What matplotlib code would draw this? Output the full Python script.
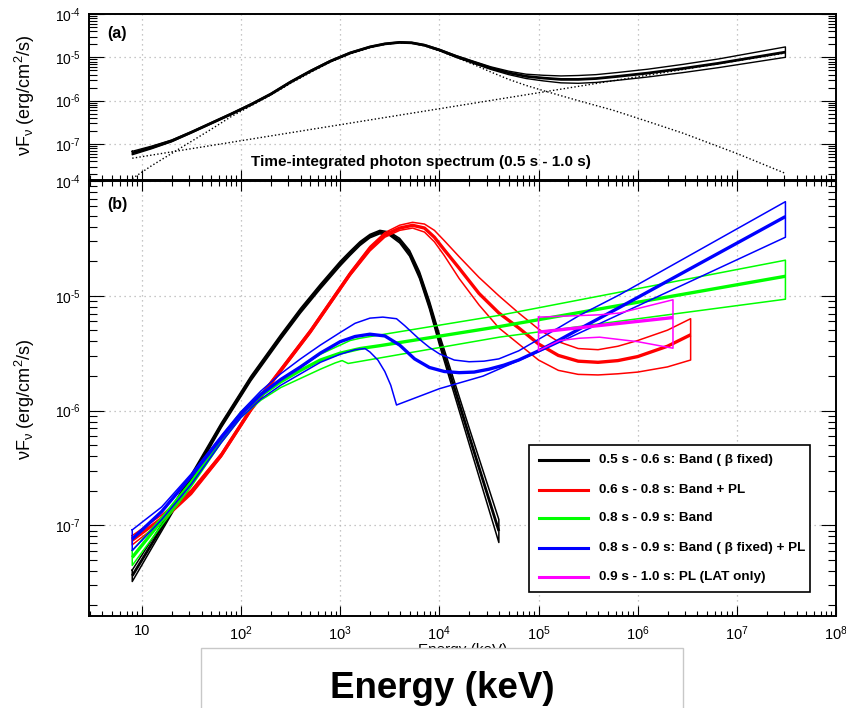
import numpy as np
import matplotlib
matplotlib.use('Agg')
import matplotlib.pyplot as plt
from matplotlib.ticker import LogLocator, FuncFormatter, NullFormatter
from matplotlib.patches import Rectangle

plt.rcParams['font.family'] = ['Liberation Sans', 'DejaVu Sans']
plt.rcParams['mathtext.fontset'] = 'custom'
plt.rcParams['mathtext.rm'] = 'Liberation Sans'
plt.rcParams['mathtext.it'] = 'Liberation Sans:italic'
plt.rcParams['mathtext.bf'] = 'Liberation Sans:bold'

# ---- data (log10 E [keV], log10 nuFnu [erg/cm2/s]) ----
# panel (a): time-integrated spectrum, total model
a_logE = [0.903, 1.1, 1.3, 1.5, 1.7, 1.9, 2.1, 2.3, 2.5, 2.7, 2.9, 3.1, 3.3, 3.45,
          3.6, 3.72, 3.85, 4.0, 4.17, 4.35, 4.52, 4.7, 4.876, 5.05, 5.227, 5.4,
          5.58, 5.8, 6.1, 6.45, 6.81, 7.15, 7.49]
a_mid = [-7.21, -7.08, -6.93, -6.73, -6.52, -6.31, -6.09, -5.85, -5.57, -5.32,
         -5.09, -4.90, -4.76, -4.69, -4.655, -4.665, -4.72, -4.83, -4.98, -5.12,
         -5.25, -5.36, -5.44, -5.48, -5.51, -5.51, -5.49, -5.44, -5.365, -5.26,
         -5.14, -5.01, -4.88]
a_hi = [-7.17, -7.05, -6.91, -6.715, -6.505, -6.295, -6.075, -5.835, -5.555, -5.305,
        -5.075, -4.887, -4.75, -4.68, -4.645, -4.655, -4.708, -4.815, -4.96, -5.095,
        -5.22, -5.32, -5.39, -5.415, -5.43, -5.42, -5.40, -5.35, -5.275, -5.165,
        -5.04, -4.90, -4.76]
a_lo = [-7.25, -7.11, -6.95, -6.745, -6.535, -6.325, -6.105, -5.865, -5.585, -5.335,
        -5.105, -4.913, -4.77, -4.70, -4.665, -4.675, -4.732, -4.845, -5.00, -5.145,
        -5.28, -5.40, -5.49, -5.545, -5.59, -5.60, -5.58, -5.53, -5.455, -5.355,
        -5.24, -5.12, -5.00]
a_band_logE = [0.903, 1.1, 1.3, 1.5, 1.7, 1.9, 2.1, 2.3, 2.5, 2.7, 2.9, 3.1, 3.3,
               3.45, 3.6, 3.72, 3.85, 4.0, 4.17, 4.35, 4.52, 4.7, 4.876, 5.05, 5.4,
               5.75, 6.1, 6.455, 7.0, 7.49]
a_band = [-7.80, -7.50, -7.22, -6.94, -6.66, -6.37, -6.12, -5.87, -5.60, -5.35,
          -5.11, -4.92, -4.775, -4.70, -4.665, -4.675, -4.735, -4.85, -5.00, -5.17,
          -5.34, -5.51, -5.65, -5.77, -6.00, -6.22, -6.48, -6.75, -7.22, -7.68]
a_pl_logE = [0.903, 7.49]
a_pl = [-7.33, -4.90]

# panel (b): black 0.5-0.6 s, Band (beta fixed)
bk_logE = [0.903, 1.2, 1.5, 1.8, 2.1, 2.4, 2.6, 2.8, 3.0, 3.1, 3.2, 3.3, 3.4, 3.5,
           3.6, 3.7, 3.8, 3.9, 4.0, 4.3, 4.6]
bk_mid = [-7.44, -7.02, -6.58, -6.13, -5.72, -5.36, -5.13, -4.92, -4.72, -4.63,
          -4.545, -4.48, -4.445, -4.46, -4.52, -4.63, -4.82, -5.08, -5.38, -6.22,
          -7.05]
bk_hi = [-7.39, -6.99, -6.555, -6.11, -5.70, -5.34, -5.11, -4.90, -4.70, -4.612,
         -4.528, -4.465, -4.43, -4.445, -4.50, -4.605, -4.79, -5.045, -5.335, -6.15,
         -6.95]
bk_lo = [-7.49, -7.05, -6.605, -6.15, -5.74, -5.38, -5.15, -4.94, -4.74, -4.648,
         -4.562, -4.495, -4.46, -4.475, -4.54, -4.655, -4.85, -5.115, -5.425, -6.29,
         -7.15]

# red 0.6-0.8 s, Band + PL
rd_logE = [0.903, 1.2, 1.5, 1.8, 2.1, 2.4, 2.7, 2.9, 3.1, 3.3, 3.45, 3.6, 3.73,
           3.85, 3.95, 4.05, 4.2, 4.4, 4.6, 4.8, 5.0, 5.2, 5.4, 5.6, 5.8, 6.0, 6.3,
           6.534]
rd_mid = [-7.13, -6.94, -6.71, -6.39, -5.99, -5.65, -5.31, -5.06, -4.81, -4.59,
          -4.47, -4.41, -4.386, -4.41, -4.49, -4.60, -4.76, -4.98, -5.15, -5.28,
          -5.42, -5.52, -5.57, -5.58, -5.565, -5.53, -5.44, -5.34]
rd_hi = [-7.09, -6.91, -6.69, -6.375, -5.975, -5.635, -5.295, -5.045, -4.795, -4.57,
         -4.45, -4.385, -4.36, -4.375, -4.43, -4.52, -4.66, -4.84, -5.00, -5.15,
         -5.29, -5.40, -5.46, -5.47, -5.44, -5.39, -5.30, -5.20]
rd_lo = [-7.17, -6.97, -6.73, -6.405, -6.005, -5.665, -5.325, -5.075, -4.825, -4.61,
         -4.49, -4.43, -4.41, -4.445, -4.53, -4.65, -4.85, -5.08, -5.28, -5.42,
         -5.56, -5.65, -5.685, -5.69, -5.68, -5.665, -5.62, -5.56]

# green 0.8-0.9 s, Band
gr_logE = [0.903, 1.2, 1.5, 1.8, 2.0, 2.2, 2.4, 2.6, 2.8, 3.0, 3.2, 3.4, 4.609, 7.49]
gr_mid = [-7.28, -6.96, -6.63, -6.25, -6.03, -5.87, -5.75, -5.65, -5.56, -5.50,
          -5.46, -5.435, -5.268, -4.83]
gr_hi_logE = [0.903, 1.2, 1.5, 1.8, 2.0, 2.2, 2.4, 2.6, 2.8, 3.0, 3.1, 3.2, 4.609, 7.49]
gr_hi = [-7.22, -6.93, -6.61, -6.23, -6.01, -5.85, -5.73, -5.62, -5.51, -5.43,
         -5.39, -5.37, -5.17, -4.69]
gr_lo_logE = [0.903, 1.2, 1.5, 1.8, 2.0, 2.2, 2.4, 2.6, 2.8, 2.95, 3.02, 3.08, 4.609, 7.49]
gr_lo = [-7.35, -7.00, -6.66, -6.28, -6.06, -5.91, -5.80, -5.72, -5.64, -5.585,
         -5.565, -5.59, -5.36, -5.03]

# blue 0.8-0.9 s, Band (beta fixed) + PL
bl_logE = [0.903, 1.2, 1.5, 1.8, 2.0, 2.2, 2.4, 2.6, 2.8, 3.0, 3.15, 3.3, 3.45, 3.6,
           3.75, 3.9, 4.05, 4.2, 4.35, 4.5, 4.65, 4.8, 5.0, 5.2, 5.415, 5.82, 7.49]
bl_mid = [-7.12, -6.88, -6.57, -6.24, -6.03, -5.86, -5.73, -5.62, -5.50, -5.40,
          -5.355, -5.335, -5.35, -5.43, -5.55, -5.625, -5.66, -5.67, -5.665, -5.64,
          -5.605, -5.56, -5.48, -5.39, -5.288, -5.10, -4.31]
bl_hi_logE = [0.903, 1.2, 1.5, 1.8, 2.0, 2.2, 2.4, 2.6, 2.8, 3.0, 3.15, 3.3, 3.43,
              3.568, 3.65, 3.8, 3.9, 4.0, 4.15, 4.3, 4.45, 4.6, 4.8, 5.0, 5.2, 5.415,
              5.82, 7.49]
bl_hi = [-7.04, -6.84, -6.55, -6.22, -6.01, -5.83, -5.68, -5.55, -5.43, -5.32,
         -5.24, -5.195, -5.186, -5.20, -5.26, -5.38, -5.45, -5.506, -5.56, -5.575,
         -5.57, -5.55, -5.48, -5.38, -5.28, -5.17, -4.99, -4.18]
bl_lo_logE = [0.903, 1.2, 1.5, 1.8, 2.0, 2.2, 2.4, 2.6, 2.8, 3.0, 3.15, 3.25, 3.3,
              3.38, 3.45, 3.51, 3.568, 4.0, 4.44, 5.05, 7.49]
bl_lo = [-7.22, -6.95, -6.64, -6.28, -6.06, -5.90, -5.78, -5.68, -5.58, -5.51,
         -5.47, -5.46, -5.49, -5.56, -5.66, -5.78, -5.952, -5.81, -5.70, -5.47,
         -4.49]

# magenta 0.9-1.0 s, PL (LAT only)
mg_logE = [5.0, 6.356]
mg_mid = [-5.317, -5.19]
mg_hi_logE = [5.0, 5.617, 5.82, 6.356]
mg_hi = [-5.186, -5.166, -5.15, -5.035]
mg_lo_logE = [5.0, 5.214, 5.415, 5.617, 6.0, 6.356]
mg_lo = [-5.478, -5.39, -5.37, -5.361, -5.40, -5.457]

labels = ['0.5 s - 0.6 s: Band ( β fixed)',
          '0.6 s - 0.8 s: Band + PL',
          '0.8 s - 0.9 s: Band',
          '0.8 s - 0.9 s: Band ( β fixed) + PL',
          '0.9 s - 1.0 s: PL (LAT only)']
colors = ['#000000', '#ff0000', '#00ff00', '#0000ff', '#ff00ff']


def P(a):
    return 10 ** np.asarray(a, dtype=float)


def butterfly(ax, e, mid, eh, hi, el, lo, color, lw_mid=2.4, lw_env=1.1):
    eh, hi, el, lo = map(np.asarray, (eh, hi, el, lo))
    xs = np.concatenate([eh, el[::-1], eh[:1]])
    ys = np.concatenate([hi, lo[::-1], hi[:1]])
    ax.plot(P(xs), P(ys), color=color, lw=lw_env, solid_joinstyle='round')
    ax.plot(P(e), P(mid), color=color, lw=lw_mid, solid_capstyle='butt',
            solid_joinstyle='round')


def fmt(v, pos):
    e = int(round(np.log10(v)))
    if e == 1:
        return '10'
    if e < 0:
        return r'$\mathregular{10^{\text{-}%d}}$' % (-e)
    return r'$\mathregular{10^{%d}}$' % e


W, H = 846, 708
fig = plt.figure(figsize=(W / 100, H / 100), dpi=100)
x0, x1 = 89, 836
ax_a = fig.add_axes([x0 / W, 1 - 180 / H, (x1 - x0) / W, (180 - 14) / H])
ax_b = fig.add_axes([x0 / W, 1 - 616 / H, (x1 - x0) / W, (616 - 181) / H])

for ax in (ax_a, ax_b):
    ax.set_xscale('log')
    ax.set_yscale('log')
    ax.set_xlim(2.93, 1e8)
    ax.xaxis.set_major_locator(LogLocator(base=10, numticks=20))
    ax.xaxis.set_minor_locator(LogLocator(base=10, subs=np.arange(2, 10), numticks=200))
    ax.yaxis.set_major_locator(LogLocator(base=10, numticks=20))
    ax.yaxis.set_minor_locator(LogLocator(base=10, subs=np.arange(2, 10), numticks=200))
    ax.xaxis.set_minor_formatter(NullFormatter())
    ax.yaxis.set_minor_formatter(NullFormatter())
    ax.yaxis.set_major_formatter(FuncFormatter(fmt))
    ax.xaxis.set_major_formatter(FuncFormatter(fmt))
    ax.grid(True, which='major', color='#b4b4b4', linestyle=(0, (1, 3)), lw=0.9)
    ax.tick_params(axis='y', which='major', direction='in', length=11, width=0.8,
                   left=True, right=True, labelsize=10, pad=6)
    ax.tick_params(axis='y', which='minor', direction='in', length=6, width=0.8,
                   left=True, right=True)
    ax.tick_params(axis='x', which='major', direction='in', length=7, width=0.8,
                   top=False, bottom=True, labelsize=10.5, pad=6)
    ax.tick_params(axis='x', which='minor', direction='in', length=3.5, width=0.8,
                   top=False, bottom=True)
    for s in ax.spines.values():
        s.set_linewidth(1.4)

ax_a.set_ylim(1.47e-8, 1e-4)
ax_b.set_ylim(1.62e-8, 1e-4)
ax_a.tick_params(axis='x', labelbottom=False)
ax_b.tick_params(axis='x', which='both', top=True)

# panel (a)
dot = (0, (1, 1.6))
ax_a.plot(P(a_band_logE), P(a_band), color='k', lw=1.0, ls=dot)
ax_a.plot(P(a_pl_logE), P(a_pl), color='k', lw=1.0, ls=dot)
butterfly(ax_a, a_logE, a_mid, a_logE, a_hi, a_logE, a_lo, 'k', lw_mid=2.0, lw_env=1.0)
ax_a.text(0.024, 0.88, '(a)', transform=ax_a.transAxes, fontsize=11.5,
          fontweight='bold', va='center')
ax_a.text(0.445, 0.11, 'Time-integrated photon spectrum (0.5 s - 1.0 s)',
          transform=ax_a.transAxes, fontsize=11, fontweight='bold',
          ha='center', va='center')

# panel (b)
butterfly(ax_b, bk_logE, bk_mid, bk_logE, bk_hi, bk_logE, bk_lo, colors[0], lw_mid=2.0)
butterfly(ax_b, rd_logE, rd_mid, rd_logE, rd_hi, rd_logE, rd_lo, colors[1])
butterfly(ax_b, gr_logE, gr_mid, gr_hi_logE, gr_hi, gr_lo_logE, gr_lo, colors[2])
butterfly(ax_b, bl_logE, bl_mid, bl_hi_logE, bl_hi, bl_lo_logE, bl_lo, colors[3])
butterfly(ax_b, mg_logE, mg_mid, mg_hi_logE, mg_hi, mg_lo_logE, mg_lo, colors[4])
ax_b.text(0.024, 0.945, '(b)', transform=ax_b.transAxes, fontsize=11.5,
          fontweight='bold', va='center')

# legend box
ax_b.add_patch(Rectangle((0.589, 0.0553), 0.376, 0.3387, transform=ax_b.transAxes,
                         facecolor='white', edgecolor='black', lw=1.2, zorder=5))
rows = [0.358, 0.290, 0.225, 0.156, 0.0906]
for yy, lab, c in zip(rows, labels, colors):
    ax_b.plot([0.602, 0.668], [yy, yy], color=c, lw=2.2, transform=ax_b.transAxes,
              zorder=6)
    ax_b.text(0.683, yy, lab, transform=ax_b.transAxes, fontsize=9.7,
              fontweight='bold', va='center', zorder=6)

# axis titles
ylab = r'νF$_\mathregular{ν}$ (erg/cm$^\mathregular{2}$/s)'
fig.text(25 / W, 1 - 95 / H, ylab, rotation=90, ha='center', va='center', fontsize=13)
fig.text(25 / W, 1 - 399 / H, ylab, rotation=90, ha='center', va='center', fontsize=13)
fig.text(463 / W, 1 - 650 / H, 'Energy (keV)', ha='center', va='center', fontsize=11)

# overlay box with big axis title
fig.patches.append(Rectangle((201 / W, -0.01), (683 - 201) / W, 1.01 - 648 / H,
                             transform=fig.transFigure, facecolor='white',
                             edgecolor='#c8c8c8', lw=1.0, zorder=5))
fig.text(442 / W, 1 - 698 / H, 'Energy (keV)', ha='center', va='baseline',
         fontsize=26.5, fontweight='bold', zorder=6)

fig.savefig('out.png', dpi=100)
